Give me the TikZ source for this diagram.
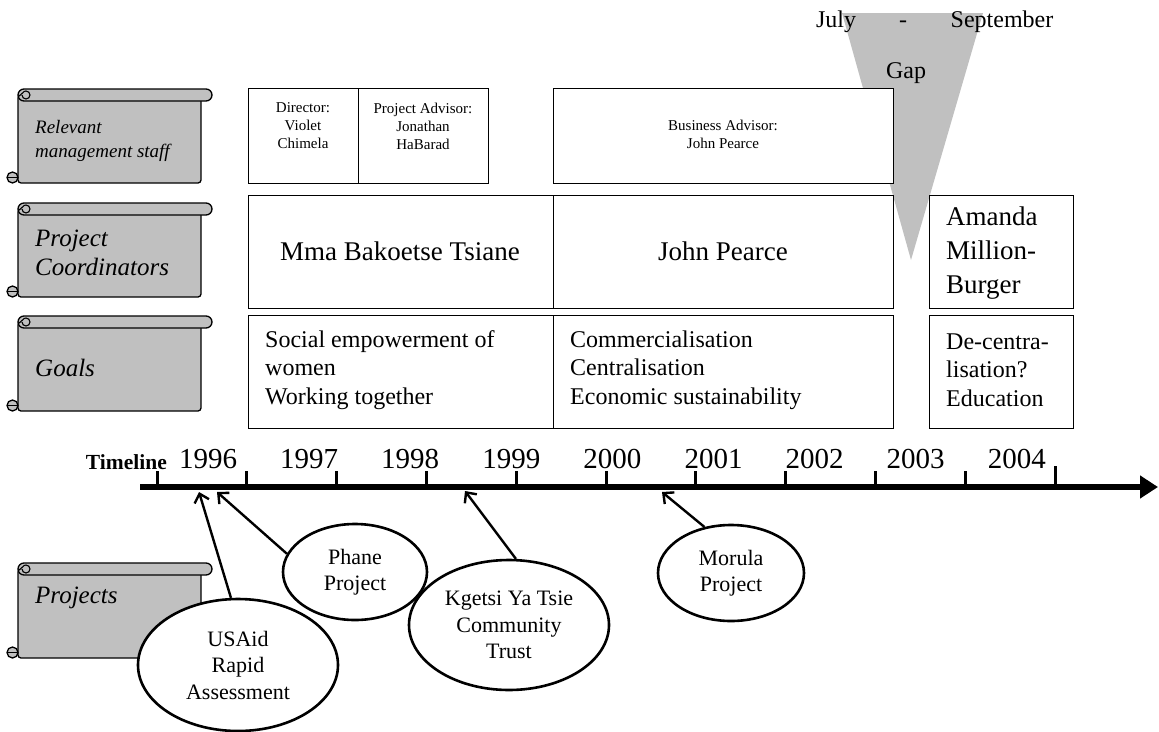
\documentclass[tikz,border=0pt]{standalone}
\usepackage{fontspec}
\setmainfont{Liberation Serif}
\usetikzlibrary{shapes.geometric,arrows.meta}
\definecolor{gapgray}{HTML}{C0C0C0}
\newcommand\fs[2]{\fontsize{#1}{#2}\selectfont}
\newcommand\myscroll[2]{%
  \filldraw[scr,rounded corners=3pt] (18,#1+6) -- (18,#2) -- (201,#2) -- (201,#1+6) -- cycle;
  \filldraw[scr,rounded corners=6pt] (18,#1) rectangle (212,#1+12);
  \draw[line width=1.1pt] (22,#1+6) arc[start angle=180,end angle=-150,radius=4] -- (18,#1+8);
  \filldraw[scr] (12.5,#2-5.5) circle (5.5);
  \draw[line width=1.1pt] (7,#2-5.5) -- (17,#2-5.5);
}
\begin{document}
\begin{tikzpicture}[x=1pt,y=-1pt,
  bx/.style={draw, line width=1.2pt, fill=white, inner sep=0pt, anchor=north west},
  scr/.style={fill=gapgray, draw, line width=1.3pt},
  lab/.style={inner sep=0pt, align=left},
  ctr/.style={inner sep=0pt, align=center},
  ell/.style={ellipse, draw, line width=2.6pt, fill=white, inner sep=0pt, align=center, font=\fs{22}{26.5}},
  pr/.style={line width=2.4pt, -{Straight Barb[length=8pt,width=15pt]}},
  tickmark/.style={line width=3pt},
  yearlab/.style={inner sep=0pt, font=\fs{29}{33}},
  scrlab/.style={inner sep=0pt, align=left, anchor=west, font=\itshape\fs{25}{29}}
]
\useasboundingbox (0,0) rectangle (1159,731);

% gap triangle
\fill[gapgray] (842,13) -- (983,13) -- (911,260) -- cycle;
\node[inner sep=0pt, anchor=base, font=\fs{24}{28}] (july) at (836,27) {July};
\node[inner sep=0pt, anchor=base, font=\fs{24}{28}] (dash) at (903,27) {-};
\node[inner sep=0pt, anchor=base, font=\fs{24}{28}] (sept) at (1002,27) {September};
\node[inner sep=0pt, anchor=base, font=\fs{24}{28}] (gap) at (906,78) {Gap};

% scrolls
\myscroll{89}{183}
\myscroll{203}{297}
\myscroll{316}{411}
\myscroll{563}{658}
\node[scrlab, font=\itshape\fs{19}{24}] (s1) at (35,141) {Relevant\\management staff};
\node[scrlab] (s2) at (35,253) {Project\\Coordinators};
\node[scrlab] (s3) at (35,368) {Goals};
\node[scrlab] (s4) at (35,598) {Projects};

% boxes
\node[bx, minimum width=110pt, minimum height=95pt] (dir) at (248,88) {};
\node[bx, minimum width=130pt, minimum height=95pt] (adv) at (358,88) {};
\node[bx, minimum width=340pt, minimum height=95pt] (bus) at (553,88) {};
\node[bx, minimum width=305pt, minimum height=113pt] (mma) at (248,195) {};
\node[bx, minimum width=340pt, minimum height=113pt] (john) at (553,195) {};
\node[bx, minimum width=144pt, minimum height=113pt] (amanda) at (929,195) {};
\node[bx, minimum width=305pt, minimum height=113pt] (g1) at (248,315) {};
\node[bx, minimum width=340pt, minimum height=113pt] (g2) at (553,315) {};
\node[bx, minimum width=144pt, minimum height=113pt] (g3) at (929,315) {};

\node[ctr, font=\fs{15}{18}] (dirt) at (303,126) {Director:\\Violet\\Chimela};
\node[ctr, font=\fs{15}{18}] (advt) at (423,126) {Project Advisor:\\Jonathan\\HaBarad};
\node[ctr, font=\fs{15}{18}] (bust) at (723,134) {Business Advisor:\\John Pearce};
\node[ctr, font=\fs{27}{32}] (mmat) at (400,251) {Mma Bakoetse Tsiane};
\node[ctr, font=\fs{27}{32}] (johnt) at (723,251) {John Pearce};
\node[lab, anchor=west, font=\fs{27}{34}] (amt) at (946,253) {Amanda\\Million-\\Burger};
\node[lab, anchor=west, font=\fs{24}{28.5}] (g1t) at (265,370) {Social empowerment of\\women\\Working together};
\node[lab, anchor=west, font=\fs{24}{28.5}] (g2t) at (570,370) {Commercialisation\\Centralisation\\Economic sustainability};
\node[lab, anchor=west, font=\fs{24}{28.5}] (g3t) at (946,370) {De-centra-\\lisation?\\Education};

% timeline
\node[inner sep=0pt, anchor=base east, font=\bfseries\fs{21.5}{25}] (tl) at (167,469) {Timeline};
\foreach \yr [count=\k from 0] in {1996,1997,1998,1999,2000,2001,2002,2003,2004}
  \node[yearlab, anchor=base] (y\yr) at (208+101.1*\k,468) {\yr};
\coordinate (a0) at (140,487);
\coordinate (a1) at (1158,487);
\draw[line width=6.5pt, -{Triangle[length=18pt,width=22pt]}] (a0) -- (a1);
\foreach \i in {0,...,9}
  \draw[tickmark] (157+89.8*\i,471) -- (157+89.8*\i,490);
\draw[tickmark] (1055,466) -- (1055,490);

% projects
\node[ell, minimum width=200pt, minimum height=132pt] (usaid) at (238,665) {USAid\\Rapid\\Assessment};
\node[ell, minimum width=144pt, minimum height=96pt] (phane) at (355,572) {Phane\\Project};
\node[ell, minimum width=200pt, minimum height=130pt] (kg) at (509,625) {Kgetsi Ya Tsie\\Community\\Trust};
\node[ell, minimum width=146pt, minimum height=96pt] (mor) at (731,573) {Morula\\Project};

\coordinate (p1) at (199,492);
\coordinate (p2) at (217,492);
\coordinate (p3) at (465,491);
\coordinate (p4) at (662,492);
\draw[pr] (usaid.96) -- (p1);
\draw[pr] (phane.165) -- (p2);
\draw[pr] (kg.84) -- (p3);
\draw[pr] (mor.120) -- (p4);
\end{tikzpicture}
\end{document}
